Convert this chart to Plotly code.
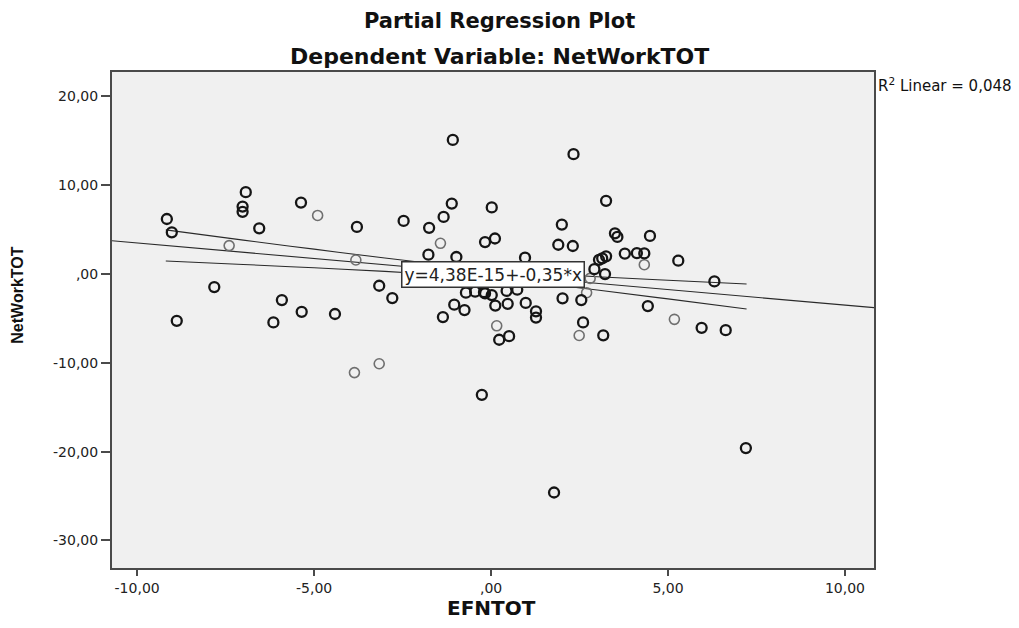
import plotly.graph_objects as go

# ---- data ----
x_dark = [-1.08, -6.93, -7.02, -7.02, -5.37, -9.16, -9.02, -6.55, -3.79, -2.47,
          -1.75, -1.34, -1.11, -1.77, -0.98, 0.02, -0.17, 0.11, -7.82, -5.91,
          -3.16, -2.79, -5.35, -4.41, -8.88, -6.15, -1.04, -0.75, -1.36, 0.12,
          -0.26, 0.23, 0.51, 2.33, 3.25, 2.00, 1.90, 2.31, 3.50, 3.57,
          4.49, 0.96, 3.78, 4.12, 4.33, 5.29, 3.25, 3.14, 3.05, 2.92,
          3.22, 6.31, 2.55, 2.02, 4.43, 1.27, 1.27, 0.98, 0.47, 0.44,
          0.74, -0.17, 0.02, -0.71, -0.45, -0.20, 2.60, 3.17, 5.95, 6.63,
          7.20, 1.78]
y_dark = [15.1, 9.22, 7.6, 7.0, 8.05, 6.2, 4.7, 5.15, 5.3, 5.98,
          5.2, 6.43, 7.93, 2.18, 1.92, 7.5, 3.6, 4.0, -1.47, -2.93,
          -1.32, -2.71, -4.25, -4.5, -5.27, -5.45, -3.45, -4.06, -4.85, -3.55,
          -13.6, -7.4, -7.0, 13.5, 8.24, 5.57, 3.3, 3.16, 4.59, 4.18,
          4.29, 1.84, 2.3, 2.36, 2.33, 1.5, 2.0, 1.77, 1.6, 0.55,
          0.0, -0.83, -2.93, -2.73, -3.61, -4.2, -4.9, -3.25, -3.35, -1.9,
          -1.76, -2.18, -2.37, -2.1, -1.99, -2.05, -5.45, -6.9, -6.06, -6.32,
          -19.6, -24.6]
x_light = [-4.90, -7.40, -3.82, -1.43, 4.33, 2.80, 2.70, -3.86, -3.16, 0.16, 2.49, 5.18]
y_light = [6.6, 3.2, 1.58, 3.46, 1.05, -0.49, -2.1, -11.1, -10.1, -5.83, -6.92, -5.1]

# fit line as labelled on the chart
intercept = 4.38e-15
slope = -0.35
fit_label = "y=4,38E-15+-0,35*x"
r2_label = "R<sup>2</sup> Linear = 0,048"

# 95% mean-confidence band
ci_x = [-9.19, -7.0, -5.0, -3.0, -1.5, 0.0, 1.5, 3.0, 5.0, 7.22]
ci_upper = [4.97, 3.82, 2.80, 1.80, 1.11, 0.52, 0.06, -0.30, -0.70, -1.12]
ci_lower = [1.47, 1.08, 0.70, 0.30, -0.06, -0.52, -1.11, -1.80, -2.80, -3.94]

# axes
x_range = [-10.71, 10.82]
y_range = [-33.1, 22.75]
x_tickvals = [-10, -5, 0, 5, 10]
x_ticktext = ["-10,00", "-5,00", ",00", "5,00", "10,00"]
y_tickvals = [20, 10, 0, -10, -20, -30]
y_ticktext = ["20,00", "10,00", ",00", "-10,00", "-20,00", "-30,00"]

title1 = "Partial Regression Plot"
title2 = "Dependent Variable: NetWorkTOT"
x_title = "EFNTOT"
y_title = "NetWorkTOT"

fig = go.Figure()

fig.add_trace(go.Scatter(x=ci_x, y=ci_upper, mode="lines", line=dict(color="#2a2a2a", width=1.1, shape="spline"),
                         hoverinfo="skip", showlegend=False))
fig.add_trace(go.Scatter(x=ci_x, y=ci_lower, mode="lines", line=dict(color="#2a2a2a", width=1.1, shape="spline"),
                         hoverinfo="skip", showlegend=False))
fig.add_trace(go.Scatter(x=x_range, y=[intercept + slope * v for v in x_range], mode="lines",
                         line=dict(color="#2a2a2a", width=1.1), hoverinfo="skip", showlegend=False))

fig.add_trace(go.Scatter(x=x_light, y=y_light, mode="markers",
                         marker=dict(symbol="circle-open", size=10, color="#6f6f6f", line=dict(width=1.6, color="#6f6f6f")),
                         showlegend=False))
fig.add_trace(go.Scatter(x=x_dark, y=y_dark, mode="markers",
                         marker=dict(symbol="circle-open", size=10, color="#151515", line=dict(width=2.3, color="#151515")),
                         showlegend=False))

axis_common = dict(showgrid=False, zeroline=False, showline=True, mirror=True,
                   linecolor="#4a4a4a", linewidth=2, ticks="outside", tickcolor="#4a4a4a",
                   tickwidth=1.5, tickfont=dict(family="DejaVu Sans", size=14, color="#222"))

fig.update_xaxes(range=x_range, tickvals=x_tickvals, ticktext=x_ticktext, ticklen=6, **axis_common)
fig.update_yaxes(range=y_range, tickvals=y_tickvals, ticktext=y_ticktext, ticklen=9, **axis_common)

ann = []
ann.append(dict(text="<b>" + title1 + "</b>", xref="paper", yref="paper", x=0.509, y=1.103,
                xanchor="center", yanchor="middle", showarrow=False,
                font=dict(family="DejaVu Sans", size=21, color="#111")))
ann.append(dict(text="<b>" + title2 + "</b>", xref="paper", yref="paper", x=0.509, y=1.032,
                xanchor="center", yanchor="middle", showarrow=False,
                font=dict(family="DejaVu Sans", size=22, color="#111")))
ann.append(dict(text="<b>" + x_title + "</b>", xref="x", yref="paper", x=0, y=-0.08,
                xanchor="center", yanchor="middle", showarrow=False,
                font=dict(family="DejaVu Sans", size=20, color="#111")))
ann.append(dict(text="<b>" + y_title + "</b>", xref="paper", yref="paper", x=-0.124, y=0.55,
                xanchor="center", yanchor="middle", showarrow=False, textangle=-90,
                font=dict(family="Liberation Sans", size=16, color="#111")))
ann.append(dict(text=r2_label, xref="paper", yref="paper", x=1.003, y=0.974,
                xanchor="left", yanchor="middle", showarrow=False,
                font=dict(family="DejaVu Sans", size=15, color="#111")))
ann.append(dict(text=fit_label, xref="x", yref="y", x=0.06, y=0,
                xanchor="center", yanchor="middle", showarrow=False,
                bgcolor="white", bordercolor="#333", borderwidth=1.5, borderpad=2,
                font=dict(family="DejaVu Sans", size=17, color="#222")))

fig.update_layout(width=1003, height=612, paper_bgcolor="white", plot_bgcolor="#f0f0f0",
                  margin=dict(l=104, r=137, t=64, b=52), annotations=ann, showlegend=False)

fig.write_html("out.html")
